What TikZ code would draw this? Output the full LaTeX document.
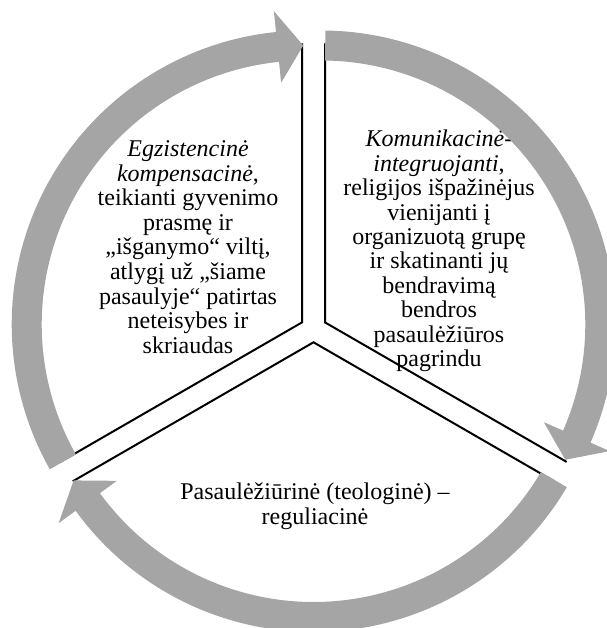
\documentclass[tikz,border=0pt]{standalone}
\usepackage{fontspec}
\setmainfont{Liberation Serif}
\usetikzlibrary{calc}
\definecolor{cyclegray}{RGB}{165,165,165}

% centre, tail angle, tip angle (clockwise)
\newcommand\cyclearrow[3]{%
  \pgfmathsetmacro\headbase{#3+5.3}
  \fill[cyclegray,shift={(#1)}] (#2:294) arc[start angle=#2,end angle=\headbase,radius=294]
    -- (\headbase:315) -- (#3:279) -- (\headbase:243) -- (\headbase:264)
    arc[start angle=\headbase,end angle=#2,radius=264] -- cycle;}

\begin{document}
\begin{tikzpicture}[x=1pt,y=1pt,
  divider/.style={draw=black,line width=2pt},
  sectortext/.style={align=center,font=\fontsize{24}{24.6}\selectfont}]
\useasboundingbox (0,0) rectangle (606,628);

% sector corners
\coordinate (vl) at (302,305.6);
\coordinate (vr) at (325,305.6);
\coordinate (vb) at (313.5,285.7);
\draw[divider] (vl) ++(90:279) -- (vl) -- +(210:279);
\draw[divider] (vr) ++(90:279) -- (vr) -- +(-30:279);
\draw[divider] (vb) ++(210:278) -- (vb) -- +(-30:278);

% texts
\node[sectortext] (egz) at (188,381) {\textit{Egzistencinė}\\ \textit{kompensacinė},\\ teikianti gyvenimo\\ prasmę ir\\ „išganymo“ viltį,\\ atlygį už „šiame\\ pasaulyje“ patirtas\\ neteisybes ir\\ skriaudas};
\node[sectortext,font=\fontsize{24}{24.4}\selectfont] (kom) at (439,377) {\textit{Komunikacinė-}\\ \textit{integruojanti},\\ religijos išpažinėjus\\ vienijanti į\\ organizuotą grupę\\ ir skatinanti jų\\ bendravimą\\ bendros\\ pasaulėžiūros\\ pagrindu};
\node[sectortext] (pas) at (315,122) {Pasaulėžiūrinė (teologinė) –\\ reguliacinė};

% arrows
\coordinate (ca1) at (321.3,303.5);
\coordinate (ca2) at (313.5,290);
\coordinate (ca3) at (305.7,303.5);
\cyclearrow{ca1}{89.2}{-29}
\cyclearrow{ca2}{-30.5}{-149.3}
\cyclearrow{ca3}{209.5}{90.5}
\end{tikzpicture}
\end{document}
